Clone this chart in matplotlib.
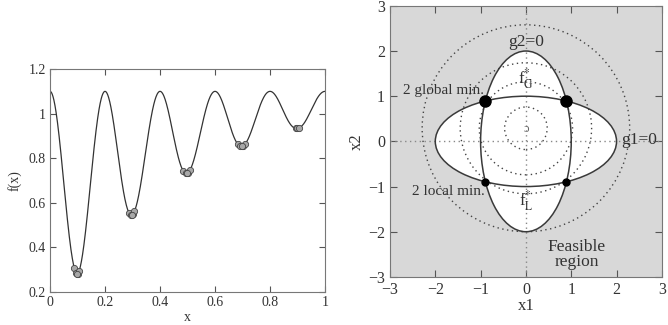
import numpy as np
import matplotlib
matplotlib.use('Agg')
import matplotlib.pyplot as plt
from matplotlib.patches import Ellipse, Circle

plt.rcParams['font.family'] = ['Liberation Serif', 'DejaVu Serif']
plt.rcParams['mathtext.fontset'] = 'stix'

# left panel: multimodal f(x)
top_val = 1.1
min_x = [0.1, 0.3, 0.5, 0.7, 0.9]
min_val = [0.28, 0.55, 0.735, 0.855, 0.935]
# sample points found near each minimum
pop_x = [0.088, 0.094, 0.1, 0.106, 0.097,
         0.288, 0.294, 0.3, 0.307, 0.297,
         0.485, 0.493, 0.5, 0.508, 0.497,
         0.683, 0.692, 0.7, 0.71, 0.697,
         0.893, 0.898, 0.904]

# right panel: constrained problem
g1_axes = (2.0, 1.0)   # semi axes of g1=0 ellipse
g2_axes = (1.0, 2.0)   # semi axes of g2=0 ellipse
f_center = (0.0, 0.29)
f_radii = [0.47, 1.03, 1.45, 2.29]
glob_min = [(-0.894, 0.894), (0.894, 0.894)]
loc_min = [(-0.894, -0.894), (0.894, -0.894)]
ticks_r = [-3, -2, -1, 0, 1, 2, 3]


def f_curve(x):
    depth = np.interp(x, min_x, top_val - np.array(min_val))
    return top_val - depth * np.sin(5 * np.pi * x) ** 2


fig = plt.figure(figsize=(6.68, 3.25), dpi=100)

ax1 = fig.add_axes([0.0749, 0.1015, 0.4117, 0.686])
xx = np.linspace(0, 1, 1000)
ax1.plot(xx, f_curve(xx), color='#333333', lw=0.9)
px = np.array(pop_x)
ax1.plot(px, f_curve(px), 'o', ms=4.5, mfc='#a8a8a8', mec='#444444', mew=0.6)
ax1.set_xlim(0, 1)
ax1.set_ylim(0.2, 1.2)
ax1.set_xticks([0, 0.2, 0.4, 0.6, 0.8, 1])
ax1.set_xticklabels(['0', '0.2', '0.4', '0.6', '0.8', '1'])
ax1.set_yticks([0.2, 0.4, 0.6, 0.8, 1, 1.2])
ax1.set_yticklabels(['0.2', '0.4', '0.6', '0.8', '1', '1.2'])
ax1.tick_params(direction='in', top=True, right=True, labelsize=10, length=4,
                color='#555555', labelcolor='#333333', pad=3)
ax1.set_xlabel('x', fontsize=10, labelpad=1, color='#333333')
ax1.set_ylabel('f(x)', fontsize=10, labelpad=5, color='#333333')
for s in ax1.spines.values():
    s.set_color('#777777')
    s.set_linewidth(0.8)

ax2 = fig.add_axes([0.5838, 0.148, 0.407, 0.834])
ax2.set_facecolor('#d8d8d8')
edge = '#3a3a3a'
for w, h in [g1_axes, g2_axes]:
    ax2.add_patch(Ellipse((0, 0), 2 * w, 2 * h, facecolor='white', edgecolor='none', zorder=1))
for w, h in [g1_axes, g2_axes]:
    ax2.add_patch(Ellipse((0, 0), 2 * w, 2 * h, facecolor='none', edgecolor=edge, lw=1.1, zorder=3))
for r in f_radii:
    ax2.add_patch(Circle(f_center, r, facecolor='none', edgecolor='#444444',
                         lw=1.0, ls=(0, (1, 2.5)), zorder=2))
ax2.axhline(0, color='#888888', lw=1.0, ls=(0, (1, 2.5)), zorder=2)
ax2.axvline(0, color='#888888', lw=1.0, ls=(0, (1, 2.5)), zorder=2)
gx, gy = zip(*glob_min)
lx, ly = zip(*loc_min)
ax2.plot(gx, gy, 'o', color='black', ms=8, zorder=4)
ax2.plot(lx, ly, 'o', color='black', ms=5, zorder=4)

tc = '#333333'
ax2.text(0, 2.2, 'g2=0', ha='center', va='center', fontsize=12.5, color=tc, zorder=5)
ax2.text(2.5, 0.02, 'g1=0', ha='center', va='center', fontsize=12.5, color=tc, zorder=5)
ax2.text(-0.93, 1.13, '2 global min.', ha='right', va='center', fontsize=11, color=tc, zorder=5)
ax2.text(-0.9, -1.12, '2 local min.', ha='right', va='center', fontsize=11, color=tc, zorder=5)
ax2.text(0, 1.38, r'f$^{*}_{\rm G}$', ha='center', va='center', fontsize=12, color=tc, zorder=5)
ax2.text(0, -1.3, r'f$^{*}_{\rm L}$', ha='center', va='center', fontsize=12, color=tc, zorder=5)
ax2.text(0.0, 0.27, '\u0254', ha='center', va='center', fontsize=9, color='#666666', zorder=5)
ax2.text(1.12, -2.5, 'Feasible\nregion', ha='center', va='center', fontsize=12.5,
         color=tc, linespacing=0.95, zorder=5)

ax2.set_xlim(-3, 3)
ax2.set_ylim(-3, 3)
ax2.set_xticks(ticks_r)
ax2.set_yticks(ticks_r)
ax2.set_xticklabels(['\u2212%d' % -t if t < 0 else str(t) for t in ticks_r])
ax2.set_yticklabels(['\u2212%d' % -t if t < 0 else str(t) for t in ticks_r])
ax2.tick_params(direction='in', top=True, right=True, labelsize=11.5, length=5,
                color='#555555', labelcolor='#333333')
ax2.set_xlabel('x1', fontsize=12, labelpad=0, color='#333333')
ax2.set_ylabel('x2', fontsize=12, labelpad=2, color='#333333')
for s in ax2.spines.values():
    s.set_color('#777777')
    s.set_linewidth(0.8)

fig.savefig('out.png', dpi=100)
